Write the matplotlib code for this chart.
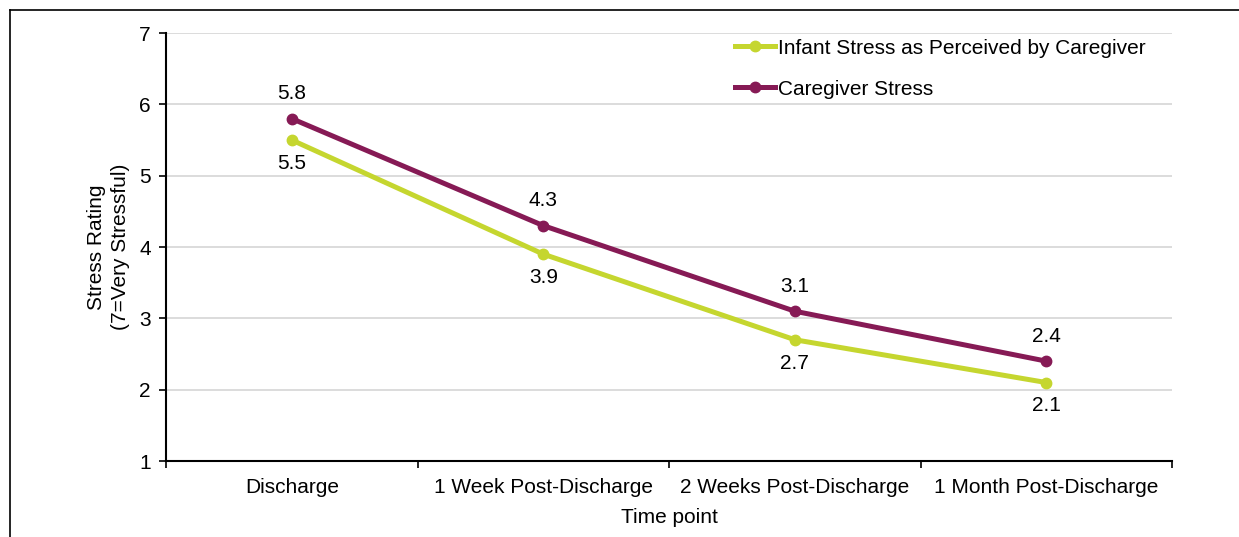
import numpy as np
import matplotlib.pyplot as plt
from matplotlib.lines import Line2D

plt.rcParams['font.family'] = ['Liberation Sans', 'DejaVu Sans']

# chart data
categories = ['Discharge', '1 Week Post-Discharge', '2 Weeks Post-Discharge', '1 Month Post-Discharge']
infant_stress = [5.5, 3.9, 2.7, 2.1]
caregiver_stress = [5.8, 4.3, 3.1, 2.4]
infant_label = 'Infant Stress as Perceived by Caregiver'
caregiver_label = 'Caregiver Stress'

green = '#c5d62f'
purple = '#861a55'
fs = 15

fig = plt.figure(figsize=(12.39, 5.37), dpi=100)
ax = fig.add_axes([0.134, 0.1415, 0.812, 0.797])

x = np.arange(len(categories)) + 0.5

ax.plot(x, infant_stress, color=green, lw=3.6, marker='o', ms=7.5, label=infant_label, zorder=3)
ax.plot(x, caregiver_stress, color=purple, lw=3.6, marker='o', ms=7.5, label=caregiver_label, zorder=3)

# value labels: caregiver above, infant below
for xi, v in zip(x, caregiver_stress):
    ax.annotate(f'{v:.1f}', (xi, v), xytext=(0, 11), textcoords='offset points',
                ha='center', va='bottom', fontsize=fs)
for xi, v in zip(x, infant_stress):
    ax.annotate(f'{v:.1f}', (xi, v), xytext=(0, -10), textcoords='offset points',
                ha='center', va='top', fontsize=fs)

ax.set_xlim(0, len(categories))
ax.set_ylim(1, 7)
ax.set_yticks(range(1, 8))
ax.yaxis.grid(True, color='#d9d9d9', lw=1.3)
ax.set_axisbelow(True)

# ticks at category boundaries, labels at centres
ax.set_xticks(np.arange(len(categories) + 1))
ax.set_xticklabels([])
ax.set_xticks(x, minor=True)
ax.set_xticklabels(categories, minor=True, fontsize=fs)
ax.tick_params(axis='x', which='minor', length=0, pad=12)
ax.tick_params(axis='x', which='major', length=5, width=1.2, direction='out')
ax.tick_params(axis='y', length=5, width=1.2, labelsize=fs, pad=6)

for s in ['top', 'right']:
    ax.spines[s].set_visible(False)
ax.spines['left'].set_linewidth(1.5)
ax.spines['bottom'].set_linewidth(1.5)

ax.set_ylabel('Stress Rating\n(7=Very Stressful)', fontsize=fs, labelpad=6.5, linespacing=1.35)
ax.set_xlabel('Time point', fontsize=fs, labelpad=8)

ax.legend(loc='upper left', bbox_to_anchor=(0.593, 0.928), bbox_transform=fig.transFigure,
          frameon=False, fontsize=fs, handlelength=1.95, handletextpad=0.12,
          labelspacing=1.05, borderpad=0, borderaxespad=0)

# outer frame (left and top edges only visible)
fig.add_artist(Line2D([10 / 1239, 10 / 1239], [0, 1 - 10 / 537], color='black', lw=1.2))
fig.add_artist(Line2D([10 / 1239, 1], [1 - 10 / 537, 1 - 10 / 537], color='black', lw=1.2))

fig.savefig('out.png', dpi=100)
